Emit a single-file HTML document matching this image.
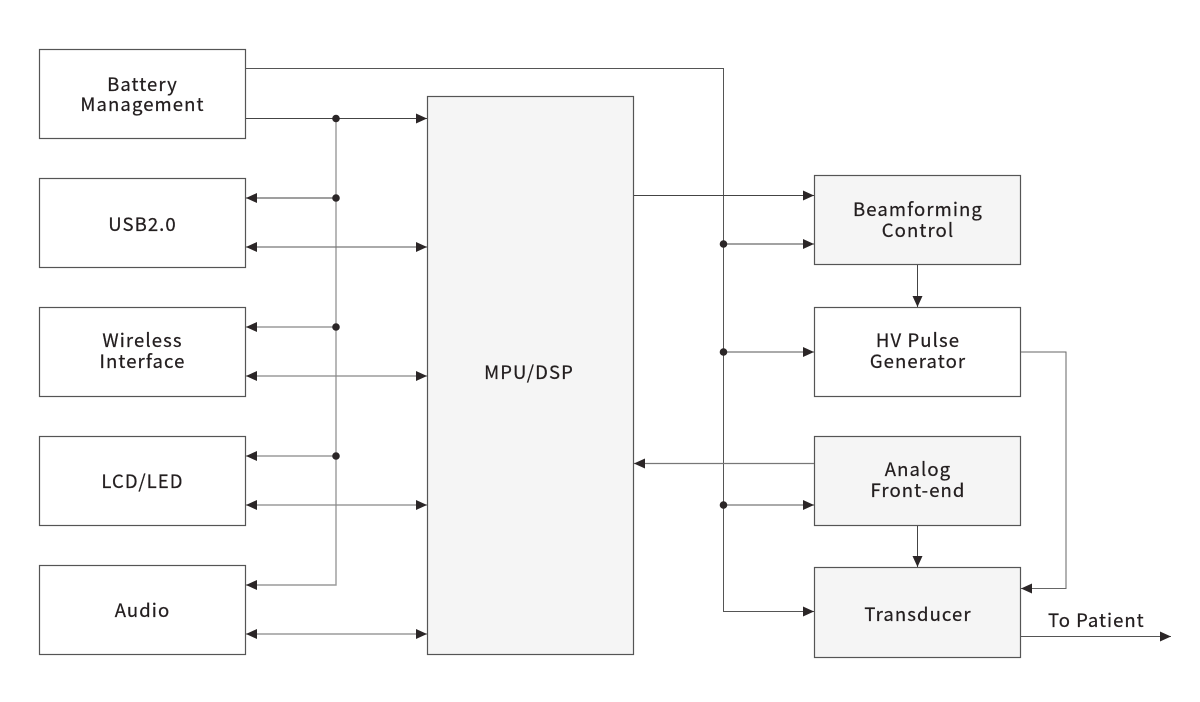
<!DOCTYPE html>
<html>
<head>
<meta charset="utf-8">
<style>
  html,body{margin:0;padding:0;background:#fff;}
  svg{display:block;}
  text{font-family:"Noto Sans CJK SC","Liberation Sans",sans-serif;font-size:18.5px;fill:#231e1f;stroke:#231e1f;stroke-width:0.25px;letter-spacing:1.1px;}
</style>
</head>
<body>
<svg width="1200" height="702" viewBox="0 0 1200 702" xmlns="http://www.w3.org/2000/svg">
  <defs>
    <marker id="ah" viewBox="0 0 11 10" refX="11" refY="5" markerWidth="11" markerHeight="10" markerUnits="userSpaceOnUse" orient="auto-start-reverse">
      <path d="M0,0 L11,5 L0,10 z" fill="#2b2627"/>
    </marker>
  </defs>

  <!-- Boxes -->
  <g stroke="#555" stroke-width="1.2">
    <rect x="39.5" y="49.5" width="206" height="89" fill="#fff"/>
    <rect x="39.5" y="178.5" width="206" height="89" fill="#fff"/>
    <rect x="39.5" y="307.5" width="206" height="89" fill="#fff"/>
    <rect x="39.5" y="436.5" width="206" height="89" fill="#fff"/>
    <rect x="39.5" y="565.5" width="206" height="89" fill="#fff"/>
    <rect x="427.5" y="96.5" width="206" height="558" fill="#f5f5f5"/>
    <rect x="814.5" y="175.5" width="206" height="89" fill="#f5f5f5"/>
    <rect x="814.5" y="307.5" width="206" height="89" fill="#fff"/>
    <rect x="814.5" y="436.5" width="206" height="89" fill="#f5f5f5"/>
    <rect x="814.5" y="567.5" width="206" height="90" fill="#f5f5f5"/>
  </g>

  <!-- Left bus -->
  <g fill="none" stroke-width="1">
    <polyline points="336,118.5 336,585 246,585" stroke="#9a9a9a" stroke-width="1.4" marker-end="url(#ah)"/>
    <line x1="246" y1="118.5" x2="427" y2="118.5" stroke="#444" marker-end="url(#ah)"/>
    <line x1="336" y1="198" x2="246" y2="198" stroke="#666" stroke-width="1.2" marker-end="url(#ah)"/>
    <line x1="246" y1="247" x2="427" y2="247" stroke="#777" stroke-width="1.2" marker-start="url(#ah)" marker-end="url(#ah)"/>
    <line x1="336" y1="327" x2="246" y2="327" stroke="#888" stroke-width="1.3" marker-end="url(#ah)"/>
    <line x1="246" y1="376" x2="427" y2="376" stroke="#888" stroke-width="1.3" marker-start="url(#ah)" marker-end="url(#ah)"/>
    <line x1="336" y1="456" x2="246" y2="456" stroke="#888" stroke-width="1.3" marker-end="url(#ah)"/>
    <line x1="246" y1="505" x2="427" y2="505" stroke="#888" stroke-width="1.3" marker-start="url(#ah)" marker-end="url(#ah)"/>
    <line x1="246" y1="634" x2="427" y2="634" stroke="#888" stroke-width="1.3" marker-start="url(#ah)" marker-end="url(#ah)"/>
  </g>
  <g fill="#2b2627">
    <circle cx="336" cy="118.5" r="3.8"/>
    <circle cx="336" cy="198" r="3.8"/>
    <circle cx="336" cy="327" r="3.8"/>
    <circle cx="336" cy="456" r="3.8"/>
  </g>

  <!-- Right side -->
  <g fill="none" stroke="#444" stroke-width="1">
    <polyline points="246,68.5 723.5,68.5 723.5,611.5 814,611.5" stroke="#555" marker-end="url(#ah)"/>
    <line x1="634" y1="195.5" x2="814" y2="195.5" marker-end="url(#ah)"/>
    <line x1="723.5" y1="244" x2="814" y2="244" marker-end="url(#ah)"/>
    <line x1="723.5" y1="352" x2="814" y2="352" stroke="#555" marker-end="url(#ah)"/>
    <line x1="723.5" y1="505" x2="814" y2="505" stroke="#777" stroke-width="1.3" marker-end="url(#ah)"/>
    <line x1="814" y1="463.5" x2="634" y2="463.5" stroke="#777" stroke-width="1.2" marker-end="url(#ah)"/>
    <line x1="917.5" y1="265" x2="917.5" y2="307" marker-end="url(#ah)"/>
    <line x1="917.5" y1="526" x2="917.5" y2="567" marker-end="url(#ah)"/>
    <polyline points="1021,352 1066,352 1066,588.5 1021,588.5" stroke="#666" marker-end="url(#ah)"/>
    <line x1="1021" y1="636.5" x2="1171" y2="636.5" stroke="#555" marker-end="url(#ah)"/>
  </g>
  <g fill="#2b2627">
    <circle cx="723.5" cy="244" r="3.8"/>
    <circle cx="723.5" cy="352" r="3.8"/>
    <circle cx="723.5" cy="505" r="3.8"/>
  </g>

  <!-- Labels -->
  <g text-anchor="middle">
    <text x="142.5" y="91">Battery</text>
    <text x="142.5" y="111">Management</text>
    <text x="142.5" y="231">USB2.0</text>
    <text x="142.5" y="347">Wireless</text>
    <text x="142.5" y="368">Interface</text>
    <text x="142.5" y="488">LCD/LED</text>
    <text x="142.5" y="617">Audio</text>
    <text x="529" y="379">MPU/DSP</text>
    <text x="918" y="216">Beamforming</text>
    <text x="918" y="237">Control</text>
    <text x="918" y="347">HV Pulse</text>
    <text x="918" y="368">Generator</text>
    <text x="918" y="476">Analog</text>
    <text x="918" y="497">Front-end</text>
    <text x="918" y="621">Transducer</text>
  </g>
  <text x="1048" y="627" style="letter-spacing:1px">To Patient</text>
</svg>
</body>
</html>
